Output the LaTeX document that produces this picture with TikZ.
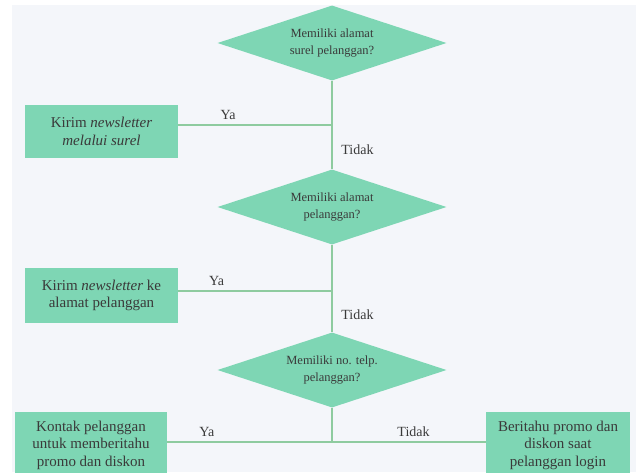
\documentclass[tikz,border=0pt]{standalone}
\usepackage{fontspec}
\setmainfont{Liberation Serif}
\usetikzlibrary{shapes.geometric}

\definecolor{mint}{HTML}{7ED6B4}
\definecolor{flowline}{HTML}{8ECB9F}
\definecolor{paper}{HTML}{F4F6FA}
\definecolor{ink}{HTML}{3A3A3A}

\tikzset{
    question/.style={diamond, aspect=3, fill=mint, inner sep=0pt, minimum width=229pt, minimum height=75pt,
        align=center, text=ink, font=\fontsize{12.5}{16.5}\selectfont},
    action/.style={rectangle, fill=mint, inner sep=0pt, align=center, text=ink,
        font=\fontsize{15}{17.5}\selectfont},
    flow/.style={draw=flowline, line width=2pt},
    answer/.style={text=ink, font=\fontsize{14}{16}\selectfont}
}

\begin{document}
\begin{tikzpicture}[x=1pt, y=-1pt]
    % page and scanned background
    \useasboundingbox (0,0) rectangle (636,472);
    \fill[paper] (12,5) rectangle (636,472);

    % decisions
    \node[question] (q1) at (332,43) {Memiliki alamat\\surel pelanggan?};
    \node[question] (q2) at (332,207) {Memiliki alamat\\pelanggan?};
    \node[question] (q3) at (332,370) {Memiliki no. telp.\\pelanggan?};

    % actions
    \node[action, minimum width=153pt, minimum height=53pt] (b1) at (101.5,131.5)
        {Kirim \emph{newsletter}\\\emph{melalui surel}};
    \node[action, minimum width=153pt, minimum height=55pt] (b2) at (101.5,295.5)
        {Kirim \emph{newsletter} ke\\alamat pelanggan};
    \node[action, minimum width=152pt, minimum height=66pt] (b3) at (91,445)
        {Kontak pelanggan\\untuk memberitahu\\promo dan diskon};
    \node[action, minimum width=144pt, minimum height=66pt] (b4) at (558,445)
        {Beritahu promo dan\\diskon saat\\pelanggan login};

    % junctions on the main line
    \coordinate (j1) at (332,125);
    \coordinate (j2) at (332,291);
    \coordinate (j3) at (332,442);

    % connectors
    \draw[flow] (q1.south) -- node[answer, pos=0.78, right=5pt] {Tidak} (q2.north);
    \draw[flow] (q2.south) -- node[answer, pos=0.8, right=5pt] {Tidak} (q3.north);
    \draw[flow] (q3.south) -- (j3);
    \draw[flow] (j1) -- node[answer, pos=0.675, above=1pt] {Ya} (j1 -| b1.east);
    \draw[flow] (j2) -- node[answer, pos=0.75, above=1pt] {Ya} (j2 -| b2.east);
    \draw[flow] (j3) -- node[answer, pos=0.76, above=1pt] {Ya} (j3 -| b3.east);
    \draw[flow] (j3) -- node[answer, pos=0.53, above=1pt] {Tidak} (j3 -| b4.west);
\end{tikzpicture}
\end{document}
